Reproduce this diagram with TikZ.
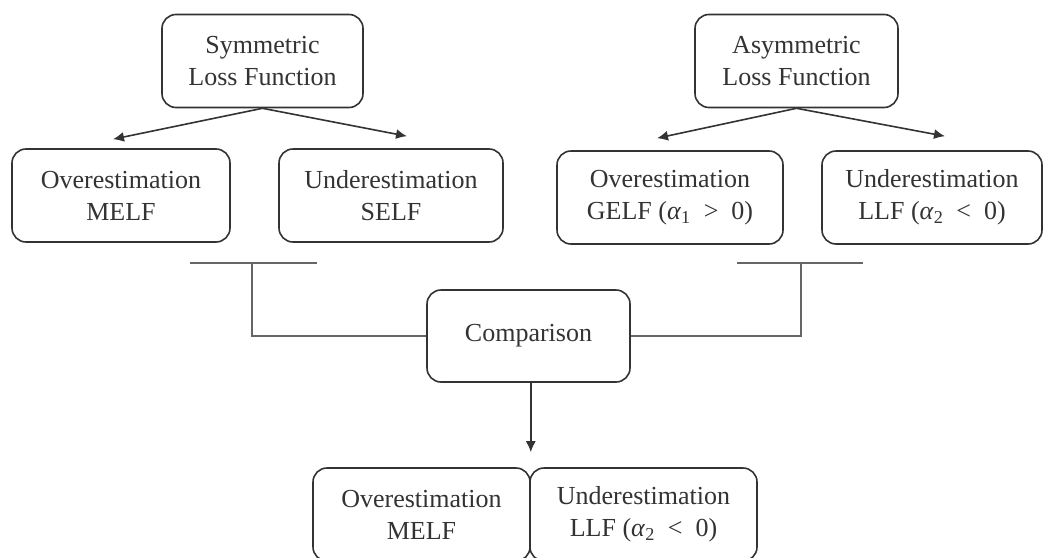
\documentclass[tikz,border=0pt]{standalone}
\usepackage{fontspec}
\setmainfont{Liberation Serif}
\usepackage{xcolor}
\definecolor{boxLine}{HTML}{333333}
\definecolor{linkGray}{HTML}{666666}
\definecolor{darkText}{HTML}{333333}
\usetikzlibrary{arrows.meta, positioning}
\newcommand{\alphasub}[1]{\textit{α}\textsubscript{#1}}
\tikzset{
    % Base style for all boxes
    loss box/.style={
        draw=boxLine,
        line width=1.6pt,
        rounded corners=14pt,
        align=center,
        text=darkText,
        font=\fontsize{26}{32}\selectfont,
        minimum height=93pt,
        inner sep=0pt,
    },
    % Arrow from a parent box
    arrow/.style={
        -{Latex[length=11pt, width=10pt]},
        line width=1.6pt,
        draw=boxLine,
    },
    % Thin gray joining line
    link line/.style={
        line width=1.2pt,
        draw=linkGray,
    },
}
\begin{document}
\begin{tikzpicture}[x=1pt, y=-1pt]
    \useasboundingbox (0,0) rectangle (1043,557);

    % Symmetric branch
    \node (sym) [loss box, minimum width=201pt] at (262.5,61) {Symmetric\\Loss Function};
    \node (symover) [loss box, minimum width=218pt] at (121,195.5) {Overestimation\\MELF};
    \node (symunder) [loss box, minimum width=224pt] at (391,195.5) {Underestimation\\SELF};

    % Asymmetric branch
    \node (asym) [loss box, minimum width=203pt] at (796.5,61) {Asymmetric\\Loss Function};
    \node (asymover) [loss box, minimum width=226pt] at (670,197.5) {Overestimation\\GELF (\alphasub{1}\enspace>\enspace0)};
    \node (asymunder) [loss box, minimum width=220pt] at (932,197.5) {Underestimation\\LLF (\alphasub{2}\enspace<\enspace0)};

    % Comparison and result
    \node (comp) [loss box, minimum width=203pt, minimum height=92pt] at (528.5,336) {Comparison};
    \node (resover) [loss box, minimum width=217pt] at (421.5,514.5) {Overestimation\\MELF};
    \node (resunder) [loss box, minimum width=227pt] at (643.5,514.5) {Underestimation\\LLF (\alphasub{2}\enspace<\enspace0)};

    \draw [arrow] (sym.south) -- ([shift={(-8,-9)}]symover.north);
    \draw [arrow] (sym.south) -- ([shift={(16,-12)}]symunder.north);
    \draw [arrow] (asym.south) -- ([shift={(-13,-12)}]asymover.north);
    \draw [arrow] (asym.south) -- ([shift={(13,-14)}]asymunder.north);
    \draw [arrow] (comp.south -| resover.east) -- ([yshift=15pt]resover.north east);

    % Joining lines into the comparison
    \coordinate (barL) at (252,263);
    \coordinate (barR) at (801,263);
    \draw [link line] (190,263) -- (317,263);
    \draw [link line] (barL) |- (comp.west);
    \draw [link line] (737,263) -- (863,263);
    \draw [link line] (barR) |- (comp.east);
\end{tikzpicture}
\end{document}
